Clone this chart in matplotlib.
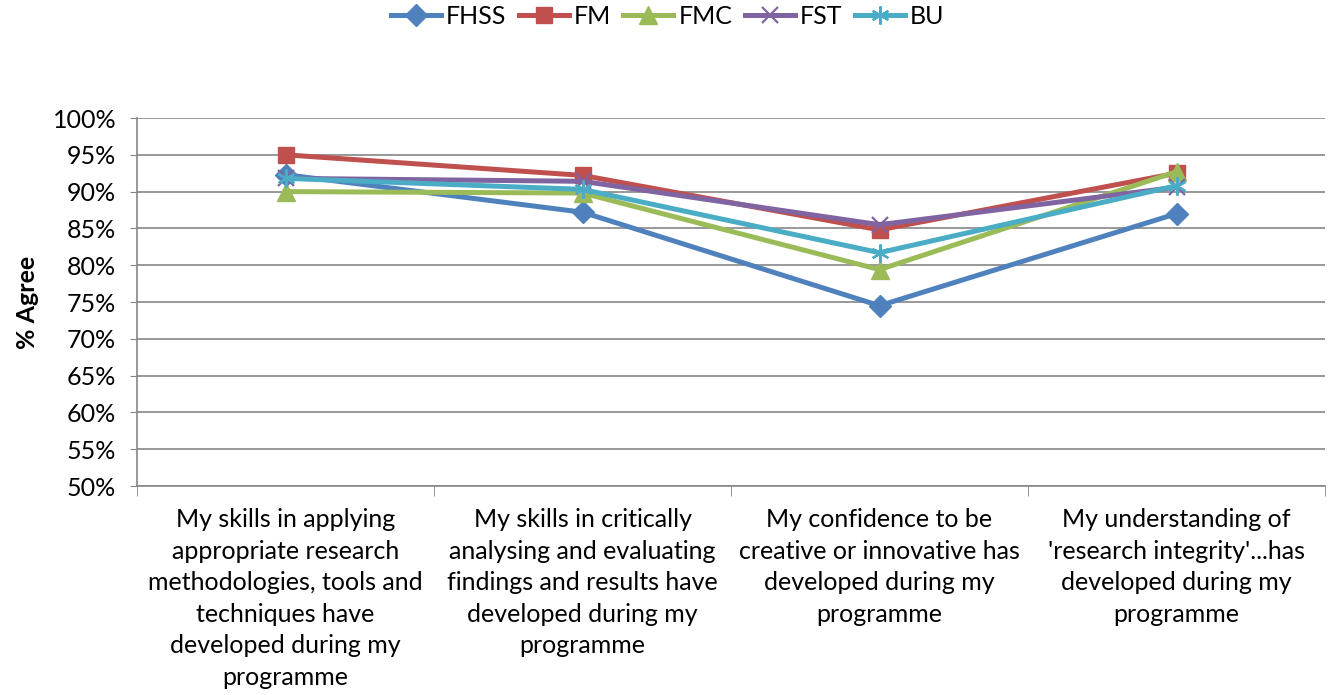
import matplotlib.pyplot as plt
from matplotlib.ticker import FixedLocator, PercentFormatter

plt.rcParams['font.family'] = ['Lato', 'DejaVu Sans']

categories = [
    "My skills in applying\nappropriate research\nmethodologies, tools and\ntechniques have\ndeveloped during my\nprogramme",
    "My skills in critically\nanalysing and evaluating\nfindings and results have\ndeveloped during my\nprogramme",
    "My confidence to be\ncreative or innovative has\ndeveloped during my\nprogramme",
    "My understanding of\n'research integrity'...has\ndeveloped during my\nprogramme",
]
fhss = [92.3, 87.2, 74.5, 87.0]
fm = [95.0, 92.2, 84.8, 92.5]
fmc = [90.0, 89.8, 79.4, 92.7]
fst = [91.8, 91.4, 85.5, 90.6]
bu = [91.8, 90.3, 81.7, 90.8]

series = [
    ("FHSS", fhss, "#4F81BD", "D", 11),
    ("FM", fm, "#C0504D", "s", 12),
    ("FMC", fmc, "#9BBB59", "^", 13),
    ("FST", fst, "#8064A2", "x", 12),
    ("BU", bu, "#4BACC6", "*", 13),
]

fig = plt.figure(figsize=(13.35, 6.95), dpi=100)
ax = fig.add_axes([137 / 1335, 1 - 486 / 695, 1188 / 1335, 368 / 695])

x = range(len(categories))
for name, vals, col, mk, ms in series:
    if mk == "*":
        ax.plot(x, vals, color=col, lw=3.6, marker=(6, 2, 0), markersize=ms,
                markeredgewidth=1.6, markeredgecolor=col, label=name)
    elif mk == "x":
        ax.plot(x, vals, color=col, lw=3.6, marker="x", markersize=ms,
                markeredgewidth=1.6, label=name)
    else:
        ax.plot(x, vals, color=col, lw=3.6, marker=mk, markersize=ms,
                markeredgecolor=col, label=name)

ax.set_xlim(-0.5, len(categories) - 0.5)
ax.set_ylim(50, 100)
ax.set_yticks(range(50, 101, 5))
ax.yaxis.set_major_formatter(PercentFormatter(decimals=0))
ax.set_xticks(list(x))
ax.set_xticklabels(categories, fontsize=18, linespacing=1.45)
ax.xaxis.set_minor_locator(FixedLocator([i - 0.5 for i in range(len(categories) + 1)]))
ax.tick_params(axis='x', which='major', length=0, pad=16)
ax.tick_params(axis='x', which='minor', length=7, color='#868686')
ax.tick_params(axis='y', labelsize=18, length=5, color='#868686', pad=10)

ax.grid(axis='y', color='#868686', lw=1.2)
ax.set_axisbelow(True)
for s in ['top', 'right']:
    ax.spines[s].set_visible(False)
for s in ['left', 'bottom']:
    ax.spines[s].set_color('#868686')
    ax.spines[s].set_linewidth(1.2)

ax.set_ylabel("% Agree", fontsize=18, fontweight='bold', labelpad=10)

fig.legend(loc='upper center', bbox_to_anchor=(0.5, 1.025), ncol=5, frameon=False,
           fontsize=18, handlelength=2.0, columnspacing=0.5, handletextpad=0.2)

fig.savefig("out.png", dpi=100)
